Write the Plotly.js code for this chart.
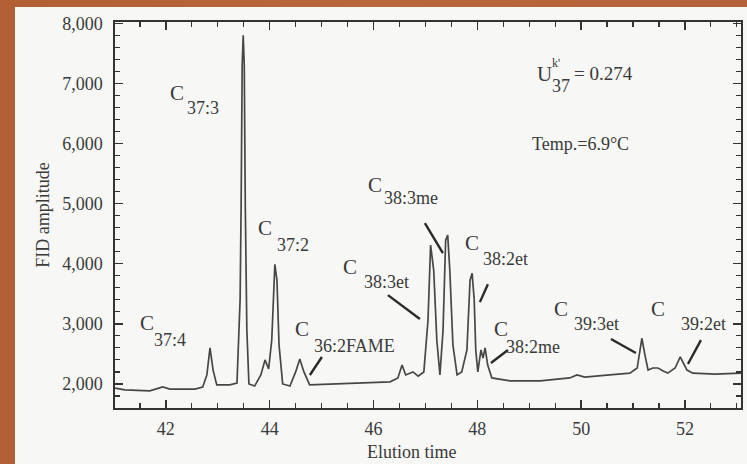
<!DOCTYPE html>
<html>
<head>
<meta charset="utf-8">
<script src="https://cdn.plot.ly/plotly-3.0.1.min.js"></script>
<style>
  html, body { margin: 0; padding: 0; width: 747px; height: 464px; overflow: hidden;
    background: linear-gradient(90deg, #b25f36 0%, #b8673b 50%, #b4623a 100%); }
  #chart { position: absolute; left: 15px; top: 7px; width: 732px; height: 457px; }
</style>
</head>
<body>
<div id="chart"></div>
<script>
// Elution time (x) and FID amplitude (y)
const elutionTime = [
  41.02, 41.21, 41.69, 41.94, 42.08, 42.56, 42.71, 42.79, 42.85, 42.91, 42.98,
  43.23, 43.37, 43.43, 43.45, 43.47, 43.49, 43.51, 43.53, 43.56, 43.60,
  43.71, 43.83, 43.91, 43.98, 44.04, 44.10, 44.14, 44.18, 44.25,
  44.39, 44.50, 44.58, 44.66, 44.77, 45.35, 45.93, 46.32, 46.47, 46.55, 46.62,
  46.76, 46.86, 46.97, 47.05, 47.10, 47.16, 47.22, 47.28, 47.34, 47.39, 47.43,
  47.47, 47.53, 47.61, 47.70, 47.80, 47.86, 47.90, 47.94, 47.97, 48.01, 48.07,
  48.11, 48.15, 48.20, 48.28, 48.63, 49.21, 49.78, 49.92, 50.07, 50.55, 50.94,
  51.08, 51.13, 51.17, 51.23, 51.29, 51.38, 51.48, 51.58, 51.67, 51.81, 51.91,
  51.98, 52.04, 52.15, 52.58, 53.08
];
const fidAmplitude = [
  1930, 1900, 1885, 1950, 1915, 1915, 1950, 2150, 2600, 2230, 1985,
  1985, 2015, 3400, 4970, 7310, 7800, 7310, 4970, 2900, 2000,
  1965, 2150, 2400, 2250, 2730, 3990, 3725, 2650, 2000,
  1965, 2200, 2415, 2200, 1985, 2000, 2015, 2035, 2100, 2315, 2150,
  2200, 2130, 2200, 3060, 4310, 3890, 2730, 2150, 2900, 4390, 4475,
  3890, 2650, 2150, 2200, 2565, 3725, 3840, 3400, 2565, 2200, 2565,
  2430, 2600, 2315, 2100, 2050, 2050, 2100, 2150, 2115, 2150, 2180,
  2265, 2565, 2760, 2480, 2230, 2265, 2265, 2215, 2180, 2265, 2450,
  2330, 2230, 2180, 2165, 2180
];

// Peak labels: main letter, subscript, positions (data coords)
const peakNames  = ["37:3", "37:4", "37:2", "36:2FAME", "38:3et", "38:3me", "38:2et", "38:2me", "39:3et", "39:2et"];
const labelCX    = [42.21, 41.63, 43.91, 44.62, 45.55, 46.03, 47.90, 48.45, 49.61, 51.48];
const labelCY    = [6831, 3013, 4590, 2913, 3942, 5303, 4341, 2913, 3245, 3245];
const labelSX    = [42.71, 42.08, 44.45, 45.64, 46.26, 46.72, 48.55, 49.07, 50.29, 52.35];
const labelSY    = [6582, 2730, 4307, 2631, 3693, 5088, 4075, 2614, 2996, 2996];
// Leader lines (label -> peak)
const leaderX0 = [45.006, 46.278, 46.99, 48.204, 48.59, 50.574, 52.308];
const leaderY0 = [2448, 3477, 4673, 3660, 2564, 2747, 2730];
const leaderX1 = [44.775, 46.894, 47.337, 48.05, 48.262, 51.056, 52.058];
const leaderY1 = [2149, 3079, 4175, 3361, 2349, 2515, 2332];

const xTickVals = [42, 44, 46, 48, 50, 52];
const yTickVals = [2000, 3000, 4000, 5000, 6000, 7000, 8000];

const serif = "Liberation Serif, Times New Roman, serif";
const ink = "#3a3a3a";

const annotations = [];
for (let i = 0; i < peakNames.length; i++) {
  annotations.push({x: labelCX[i], y: labelCY[i], xref: "x", yref: "y", text: "C",
    showarrow: false, font: {family: serif, size: 21, color: ink}});
  annotations.push({x: labelSX[i], y: labelSY[i], xref: "x", yref: "y", text: peakNames[i],
    showarrow: false, font: {family: serif, size: 18, color: ink}});
}
annotations.push({x: 49.30, y: 7163, xref: "x", yref: "y", text: "U", showarrow: false,
  font: {family: serif, size: 21, color: ink}});
annotations.push({x: 49.52, y: 7345, xref: "x", yref: "y", text: "k'", showarrow: false,
  font: {family: serif, size: 12, color: ink}});
annotations.push({x: 49.61, y: 6963, xref: "x", yref: "y", text: "37", showarrow: false,
  font: {family: serif, size: 18, color: ink}});
annotations.push({x: 50.44, y: 7163, xref: "x", yref: "y", text: "= 0.274", showarrow: false,
  font: {family: serif, size: 19, color: ink}});
annotations.push({x: 49.98, y: 5984, xref: "x", yref: "y", text: "Temp.=6.9°C", showarrow: false,
  font: {family: serif, size: 18, color: ink}});
// x-axis title (sits a little left of centre in the original)
annotations.push({x: 0.474, y: -0.114, xref: "paper", yref: "paper", text: "Elution time",
  showarrow: false, xanchor: "center", yanchor: "middle",
  font: {family: serif, size: 18, color: ink}});

const shapes = leaderX0.map((x0, i) => ({type: "line", xref: "x", yref: "y",
  x0: x0, y0: leaderY0[i], x1: leaderX1[i], y1: leaderY1[i],
  line: {color: "#2a2a2a", width: 2.4}}));

const trace = {x: elutionTime, y: fidAmplitude, type: "scatter", mode: "lines",
  line: {color: "#474747", width: 1.7}, hoverinfo: "skip"};

const axisCommon = {showline: true, linecolor: "#333", linewidth: 1.6, mirror: "ticks",
  ticks: "inside", tickcolor: "#333", tickwidth: 1.4, showgrid: false, zeroline: false,
  tickfont: {family: serif, size: 18, color: ink}};

const layout = {
  width: 732, height: 457,
  margin: {l: 100, r: 6, t: 15, b: 56},
  paper_bgcolor: "#f7f7f5", plot_bgcolor: "#f7f7f5",
  showlegend: false,
  xaxis: Object.assign({}, axisCommon, {range: [41.02, 53.08], tickvals: xTickVals,
    ticklen: 8, ticklabelstandoff: 4,
    minor: {dtick: 0.5, tick0: 42, ticks: "inside", ticklen: 5, tickcolor: "#333", tickwidth: 1.2}}),
  yaxis: Object.assign({}, axisCommon, {range: [1600, 8020], tickvals: yTickVals,
    tickformat: ",d", ticklen: 8, ticklabelstandoff: 7,
    minor: {dtick: 200, tick0: 2000, ticks: "inside", ticklen: 5, tickcolor: "#333", tickwidth: 1.2},
    title: {text: "FID amplitude", font: {family: serif, size: 18, color: ink}, standoff: 8}}),
  annotations: annotations,
  shapes: shapes
};

Plotly.newPlot("chart", [trace], layout, {staticPlot: true, displayModeBar: false});
</script>
</body>
</html>
